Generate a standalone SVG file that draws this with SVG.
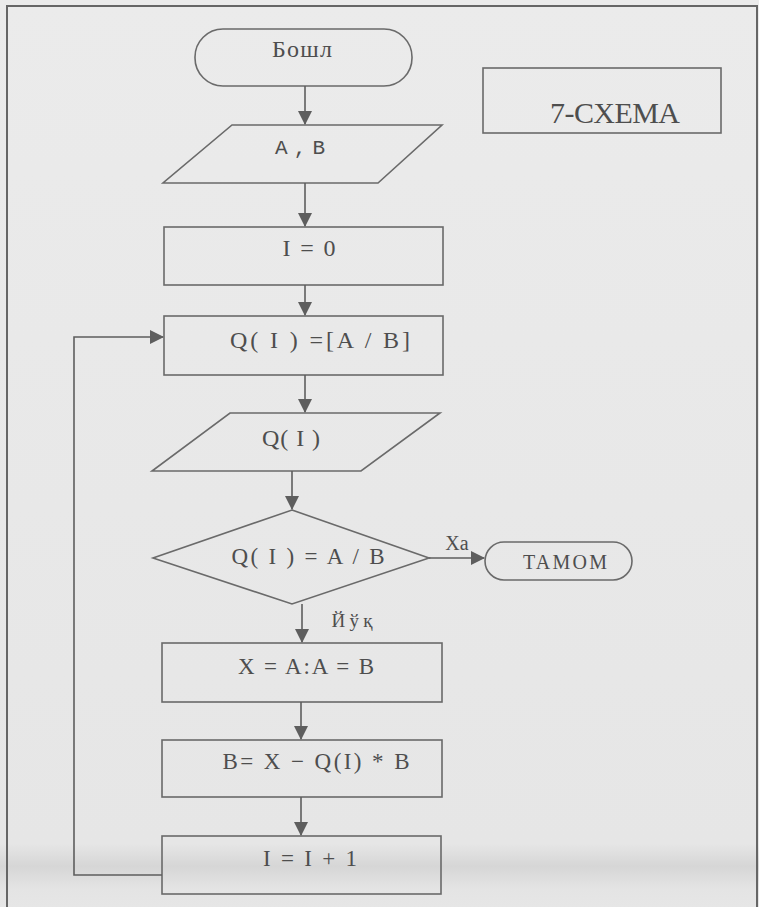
<svg xmlns="http://www.w3.org/2000/svg" width="759" height="907" viewBox="0 0 759 907">
<defs>
<linearGradient id="bg" x1="0" y1="0" x2="0" y2="1">
<stop offset="0" stop-color="#ebebeb"/>
<stop offset="0.93" stop-color="#e6e6e6"/>
<stop offset="0.955" stop-color="#d6d6d6"/>
<stop offset="0.98" stop-color="#e4e4e4"/>
<stop offset="1" stop-color="#e6e6e6"/>
</linearGradient>
<marker id="ah" viewBox="0 0 14 14" refX="13" refY="7" markerWidth="14" markerHeight="14" markerUnits="userSpaceOnUse" orient="auto">
<path d="M0,0 L14,7 L0,14 Z" fill="#5e5e5e"/>
</marker>
</defs>
<style>
.s{fill:none;stroke:#6a6a6a;stroke-width:1.6}
.c{fill:none;stroke:#5e5e5e;stroke-width:1.6}
.t{font-family:"Liberation Serif","Times New Roman",serif;fill:#4e4e4e;text-anchor:middle}
.m{font-family:"Liberation Mono","Courier New",monospace;fill:#4e4e4e;text-anchor:middle}
</style>
<rect width="759" height="907" fill="url(#bg)"/>
<path d="M7,907 V6 H757 V907" fill="none" stroke="#666" stroke-width="2"/>

<g id="n_start"><rect class="s" x="195" y="29" width="217" height="57" rx="28"/><text class="t" x="302" y="57" font-size="24" textLength="60">Бошл</text></g>
<g id="n_title"><rect class="s" x="483" y="68" width="238" height="65"/><text class="t" x="615" y="123" font-size="30" textLength="130">7-CXEMA</text></g>
<g id="n_input"><polygon class="s" points="232,125 442,125 378,183 163,183"/><text class="m" x="300" y="154" font-size="21" textLength="50">A , B</text></g>
<g id="n_init"><rect class="s" x="164" y="227" width="279" height="58"/><text class="t" x="309" y="256" font-size="24" textLength="53">I = 0</text></g>
<g id="n_q"><rect class="s" x="164" y="316" width="279" height="59"/><text class="t" x="320" y="348" font-size="24" textLength="180">Q( I ) =[A / B]</text></g>
<g id="n_out"><polygon class="s" points="230,413 440,413 361,471 152,471"/><text class="t" x="291" y="446" font-size="24" textLength="58">Q( I )</text></g>
<g id="n_dec"><polygon class="s" points="292,510 429,558 292,604 153,558"/><text class="t" x="308" y="564" font-size="23" textLength="153">Q( I ) = A / B</text></g>
<g id="n_end"><rect class="s" x="485" y="542" width="147" height="38" rx="19"/><text class="t" x="565" y="569" font-size="20" textLength="84">TAMOM</text></g>
<g id="n_x"><rect class="s" x="162" y="643" width="280" height="59"/><text class="t" x="306" y="674" font-size="23" textLength="136">X = A:A = B</text></g>
<g id="n_b"><rect class="s" x="162" y="740" width="280" height="57"/><text class="t" x="316" y="769" font-size="23" textLength="187">B= X − Q(I)  * B</text></g>
<g id="n_inc"><rect class="s" x="162" y="836" width="279" height="58"/><text class="t" x="310" y="866" font-size="23" textLength="94">I = I + 1</text></g>

<g id="connectors">
<path class="c" d="M305,86 V124" marker-end="url(#ah)"/>
<path class="c" d="M305,183 V226" marker-end="url(#ah)"/>
<path class="c" d="M305,285 V315" marker-end="url(#ah)"/>
<path class="c" d="M305,375 V412" marker-end="url(#ah)"/>
<path class="c" d="M292,471 V509" marker-end="url(#ah)"/>
<path class="c" d="M429,558 H484" marker-end="url(#ah)"/>
<path class="c" d="M302,604 V642" marker-end="url(#ah)"/>
<path class="c" d="M301,702 V739" marker-end="url(#ah)"/>
<path class="c" d="M301,797 V835" marker-end="url(#ah)"/>
<path class="c" d="M162,875 H74 V337 H163" marker-end="url(#ah)"/>
<text class="t" x="457" y="550" font-size="20">Xa</text>
<text class="t" x="352" y="627" font-size="19" textLength="41">Йўқ</text>
</g>
</svg>
